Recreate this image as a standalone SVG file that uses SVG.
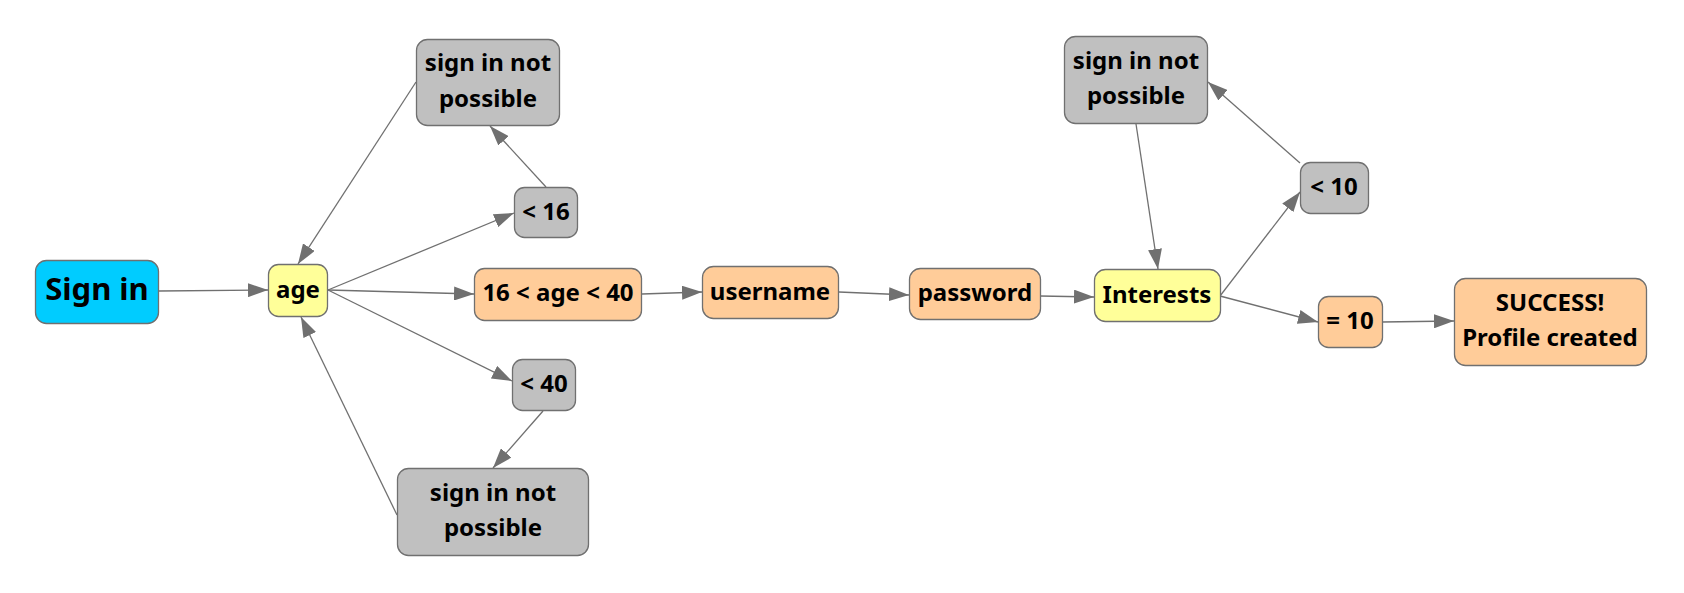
<svg xmlns="http://www.w3.org/2000/svg" width="1684" height="593" viewBox="0 0 1684 593">
<style>
.n{stroke:#707070;stroke-width:1.3}
.blue{fill:#00CCFF}.yel{fill:#FFFF99}.org{fill:#FFCC99}.gry{fill:#C0C0C0}
text{font-family:"Noto Sans","Open Sans",sans-serif;font-weight:bold;font-size:24px;fill:#000;text-anchor:middle}
.big{font-size:31px}
.e line{stroke:#707070;stroke-width:1.3;marker-end:url(#ah)}
</style>
<defs>
<marker id="ah" viewBox="0 0 20 14" refX="20" refY="7" markerWidth="20" markerHeight="14" markerUnits="userSpaceOnUse" orient="auto">
<path d="M0,0 L20,7 L0,14 z" fill="#707070"/>
</marker>
</defs>
<rect width="1684" height="593" fill="#fff"/>
<g class="e" id="connectors">
<line x1="159" y1="291" x2="268" y2="290"/>
<line x1="328" y1="290" x2="514" y2="213"/>
<line x1="328" y1="290" x2="474" y2="294"/>
<line x1="328" y1="290" x2="512" y2="381"/>
<line x1="546" y1="187" x2="490" y2="126"/>
<line x1="416" y1="82" x2="298" y2="264"/>
<line x1="543" y1="411" x2="493" y2="468"/>
<line x1="397" y1="515" x2="301" y2="317"/>
<line x1="642" y1="294" x2="702" y2="292"/>
<line x1="839" y1="292" x2="909" y2="295"/>
<line x1="1040" y1="296" x2="1094" y2="297"/>
<line x1="1220" y1="296" x2="1300" y2="192"/>
<line x1="1300" y1="163" x2="1208" y2="82"/>
<line x1="1136" y1="124" x2="1158" y2="269"/>
<line x1="1220" y1="296" x2="1318" y2="322"/>
<line x1="1382" y1="322" x2="1454" y2="321"/>
</g>
<g id="signin"><rect class="n blue" x="35.5" y="260.5" width="123" height="63" rx="11"/><text class="big" x="97" y="300">Sign in</text></g>
<g id="age"><rect class="n yel" x="268.5" y="264.5" width="59" height="52" rx="10"/><text x="298" y="297.5">age</text></g>
<g id="no1"><rect class="n gry" x="416.5" y="39.5" width="143" height="86" rx="11"/><text x="488" y="71">sign in not</text><text x="488" y="106.7">possible</text></g>
<g id="lt16"><rect class="n gry" x="514.5" y="187.5" width="63" height="50" rx="10"/><text x="546" y="219.5">&lt; 16</text></g>
<g id="range"><rect class="n org" x="474.5" y="268.5" width="167" height="52" rx="10"/><text x="558" y="301">16 &lt; age &lt; 40</text></g>
<g id="lt40"><rect class="n gry" x="512.5" y="359.5" width="63" height="51" rx="10"/><text x="544" y="392">&lt; 40</text></g>
<g id="no2"><rect class="n gry" x="397.5" y="468.5" width="191" height="87" rx="11"/><text x="493" y="500.5">sign in not</text><text x="493" y="536">possible</text></g>
<g id="username"><rect class="n org" x="702.5" y="266.5" width="136" height="52" rx="11"/><text x="770" y="299.5">username</text></g>
<g id="password"><rect class="n org" x="909.5" y="268.5" width="131" height="51" rx="11"/><text x="975" y="301">password</text></g>
<g id="interests"><rect class="n yel" x="1094.5" y="269.5" width="126" height="52" rx="11"/><text x="1157" y="302.5">Interests</text></g>
<g id="no3"><rect class="n gry" x="1064.5" y="36.5" width="143" height="87" rx="11"/><text x="1136" y="68.5">sign in not</text><text x="1136" y="104">possible</text></g>
<g id="lt10"><rect class="n gry" x="1300.5" y="162.5" width="68" height="51" rx="10"/><text x="1334" y="195">&lt; 10</text></g>
<g id="eq10"><rect class="n org" x="1318.5" y="296.5" width="64" height="51" rx="10"/><text x="1350" y="329">= 10</text></g>
<g id="success"><rect class="n org" x="1454.5" y="278.5" width="192" height="87" rx="11"/><text x="1550" y="310.5">SUCCESS!</text><text x="1550" y="346">Profile created</text></g>
</svg>
